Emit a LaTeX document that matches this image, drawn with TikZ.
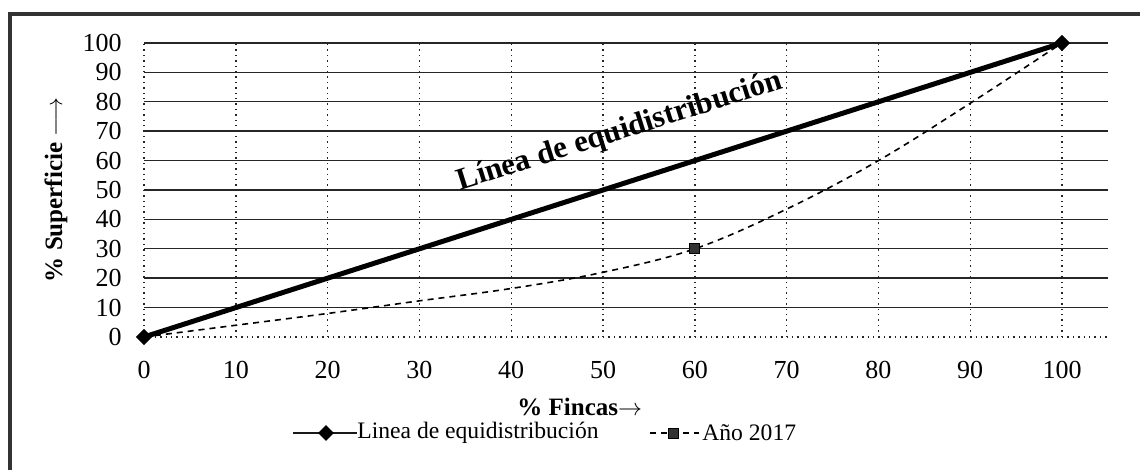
\documentclass[tikz,border=0pt]{standalone}
\usepackage{fontspec}
\setmainfont{Liberation Serif}
\usetikzlibrary{shapes.geometric}
\tikzset{
  frameline/.style={draw=black!80, line width=1.6pt},
  hgrid/.style={draw=black!85, line width=0.7pt},
  vgrid/.style={draw=black!85, line width=0.7pt, dotted},
  equi/.style={draw=black, line width=2.5pt},
  curve17/.style={draw=black, line width=0.8pt, dash pattern=on 3pt off 2.5pt},
  dmark/.style={diamond, fill=black, inner sep=0pt, minimum width=8pt, minimum height=8pt},
  smark/.style={rectangle, fill=black!80, draw=black, inner sep=0pt, minimum size=5pt},
  ticklab/.style={inner sep=0pt, font=\fontsize{13}{15}\selectfont},
  lab/.style={inner sep=0pt, font=\fontsize{12.5}{14}\selectfont},
  leglab/.style={inner sep=0pt, font=\fontsize{11.8}{14}\selectfont},
}
\begin{document}
\begin{tikzpicture}[x=0.5pt, y=-0.5pt, font=\fontsize{12.5}{14}\selectfont]
\useasboundingbox (0,0) rectangle (1140,470);
\clip (0,0) rectangle (1140,470);
\draw[frameline] (10,490) -- (10,14) -- (1160,14);
% plot area: data scope
\begin{scope}[shift={(72pt,-168.5pt)}, x={(4.59pt,0pt)}, y={(0pt,1.47pt)}]
  \foreach \v in {10,20,...,100} \draw[hgrid] (0,\v) -- (105,\v);
  \foreach \u in {0,10,...,100} \draw[vgrid] (\u,0) -- (\u,100);
  \draw[vgrid] (0,0) -- (105,0);
  % tick labels
  \foreach \v in {0,10,...,100} \node[ticklab, anchor=east] (yl\v) at (-2.4,\v) {\v};
  \foreach \u in {0,10,...,100} \node[ticklab] (xl\u) at (\u,-11.3) {\u};
  % series
  \draw[curve17] plot[smooth, tension=0.6] coordinates {(0,0) (10,4) (20,8) (30,12.3) (40,16.5) (50,22) (60,30) (70,43.5) (80,60) (90,79.5) (100,100)};
  \node[dmark] (e0) at (0,0) {};
  \node[dmark] (e1) at (100,100) {};
  \draw[equi] (e0.center) -- (e1.center);
  \node[dmark] at (0,0) {};
  \node[dmark] at (100,100) {};
  \node[smark] (a1) at (60,30) {};
\end{scope}
% inline label
\node[inner sep=0pt, rotate=17.5, font=\fontsize{15.5}{17}\selectfont\bfseries] (linelab) at (620,132) {Línea de equidistribución};
% axis titles
\node[lab, rotate=90] (ytitle) at (56,190) {\textbf{\% Superficie} $\longrightarrow$};
\node[lab, anchor=base west] (xtitle) at (517,415) {\textbf{\% Fincas}$\rightarrow$};
% legend
\draw[line width=1.4pt, black!90] (293,433) coordinate (l1a) -- (357,433) coordinate (l1b);
\node[dmark] (l1m) at (326,433) {};
\node[leglab, anchor=west] (l1t) at (357,433) {Linea de equidistribución};
\draw[curve17] (650,433) coordinate (l2a) -- (699,433) coordinate (l2b);
\node[smark] (l2m) at (673,433) {};
\node[leglab, anchor=west] (l2t) at (702,433) {Año 2017};
\end{tikzpicture}
\end{document}
